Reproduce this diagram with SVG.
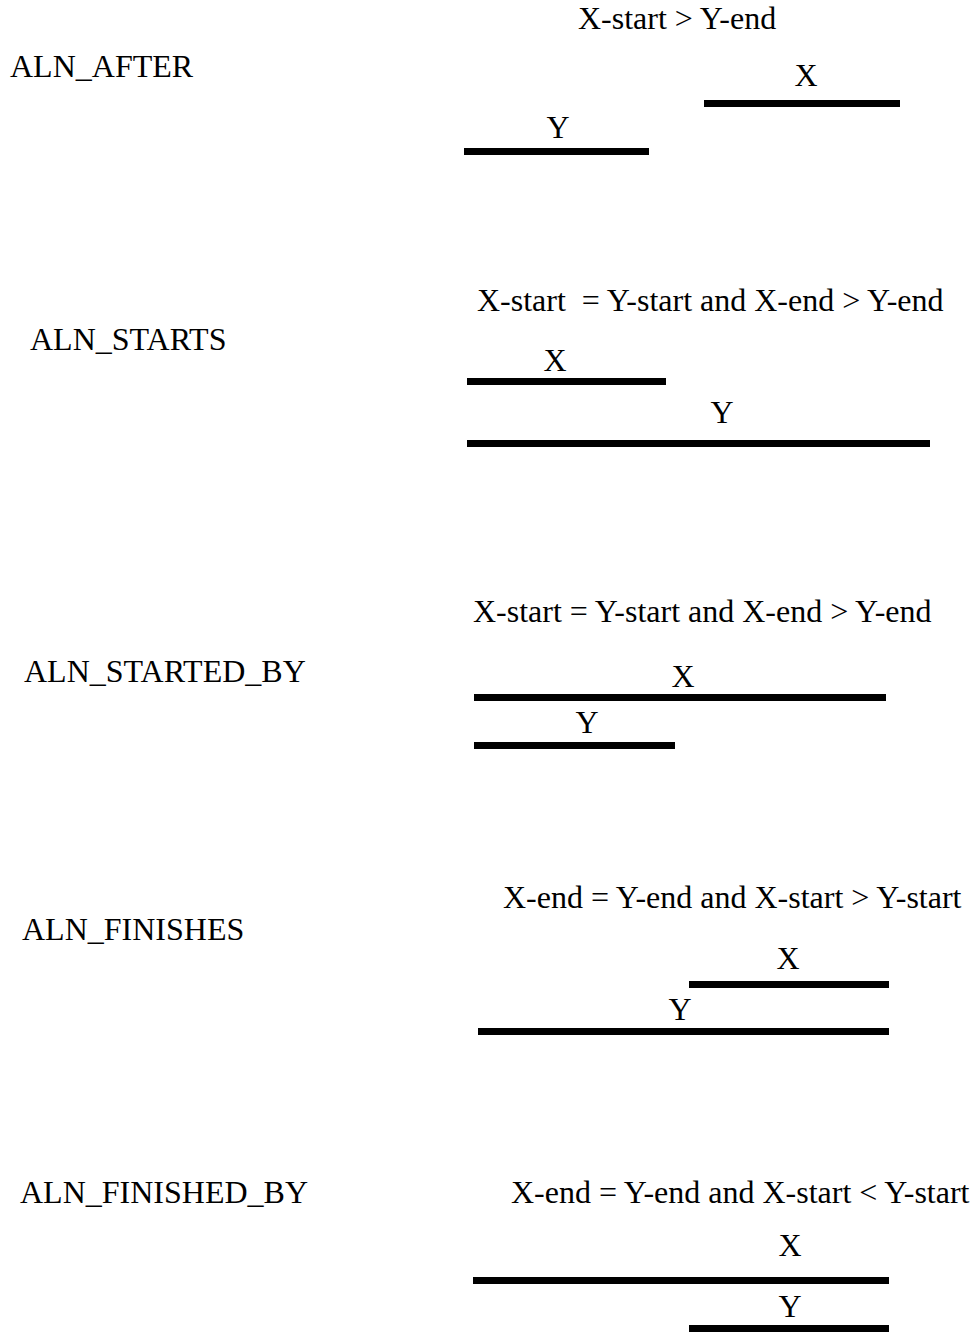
<svg xmlns="http://www.w3.org/2000/svg" width="980" height="1341" viewBox="0 0 980 1341">
<style>
text { font-family: "Liberation Serif", "Times New Roman", serif; font-size: 32px; fill: #000; }
.c { text-anchor: middle; }
.pre { white-space: pre; }
.bar { fill: #000; }
</style>
<rect width="980" height="1341" fill="#fff"/>
<g id="aln_after">
  <text x="10" y="77">ALN_AFTER</text>
  <text x="578" y="29">X-start &gt; Y-end</text>
  <text class="c" x="806" y="86">X</text>
  <rect class="bar" x="704" y="100" width="196" height="7"/>
  <text class="c" x="558" y="138">Y</text>
  <rect class="bar" x="464" y="148" width="185" height="7"/>
</g>
<g id="aln_starts">
  <text x="30" y="350">ALN_STARTS</text>
  <text class="pre" x="477" y="311" xml:space="preserve">X-start  = Y-start and X-end &gt; Y-end</text>
  <text class="c" x="555" y="371">X</text>
  <rect class="bar" x="467" y="378" width="199" height="7"/>
  <text class="c" x="722" y="423">Y</text>
  <rect class="bar" x="467" y="440" width="463" height="7"/>
</g>
<g id="aln_started_by">
  <text x="24" y="682">ALN_STARTED_BY</text>
  <text x="473" y="622">X-start = Y-start and X-end &gt; Y-end</text>
  <text class="c" x="683" y="687">X</text>
  <rect class="bar" x="474" y="694" width="412" height="7"/>
  <text class="c" x="587" y="733">Y</text>
  <rect class="bar" x="474" y="742" width="201" height="7"/>
</g>
<g id="aln_finishes">
  <text x="22" y="940">ALN_FINISHES</text>
  <text x="503" y="908">X-end = Y-end and X-start &gt; Y-start</text>
  <text class="c" x="788" y="969">X</text>
  <rect class="bar" x="689" y="981" width="200" height="7"/>
  <text class="c" x="680" y="1020">Y</text>
  <rect class="bar" x="478" y="1028" width="411" height="7"/>
</g>
<g id="aln_finished_by">
  <text x="20" y="1203">ALN_FINISHED_BY</text>
  <text x="511" y="1203">X-end = Y-end and X-start &lt; Y-start</text>
  <text class="c" x="790" y="1256">X</text>
  <rect class="bar" x="473" y="1277" width="416" height="7"/>
  <text class="c" x="790" y="1317">Y</text>
  <rect class="bar" x="689" y="1325" width="200" height="7"/>
</g>
<g id="connectors"></g>
</svg>
